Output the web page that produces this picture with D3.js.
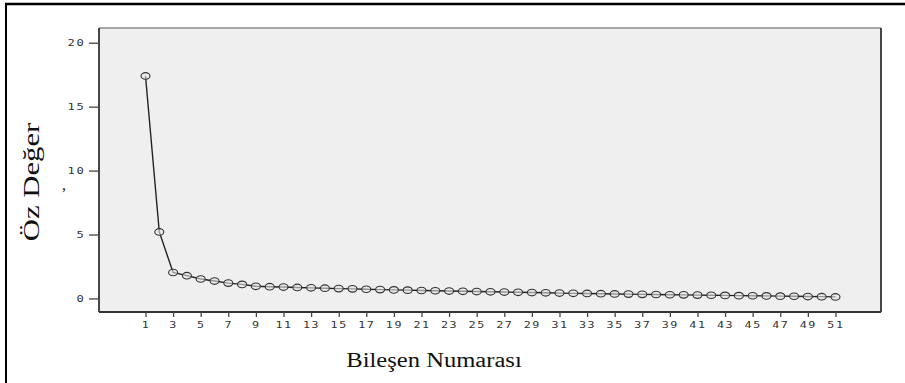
<!DOCTYPE html>
<html>
<head>
<meta charset="utf-8">
<script src="https://cdn.jsdelivr.net/npm/d3@7/dist/d3.min.js"></script>
<style>
  html, body { margin: 0; padding: 0; background: #fff; }
  svg { display: block; }
</style>
</head>
<body>
<svg id="chart" width="905" height="383"></svg>
<script>
const components = d3.range(1, 52);
const eigenvalues = [
  17.4, 5.2, 2.03, 1.78, 1.52, 1.36, 1.2, 1.1, 0.95, 0.92,
  0.89, 0.86, 0.83, 0.80, 0.77, 0.75, 0.72, 0.69, 0.67, 0.65,
  0.62, 0.60, 0.58, 0.56, 0.54, 0.52, 0.50, 0.48, 0.46, 0.44,
  0.42, 0.40, 0.39, 0.37, 0.35, 0.34, 0.32, 0.31, 0.29, 0.28,
  0.26, 0.25, 0.24, 0.22, 0.21, 0.20, 0.18, 0.17, 0.15, 0.14, 0.12
];
const xTickValues = d3.range(1, 52, 2);
const yTickValues = [0, 5, 10, 15, 20];
const xTitle = "Bileşen Numarası";
const yTitle = "Öz Değer";

const svg = d3.select("#chart");

// outer frame (top and left only)
svg.append("line").attr("x1", 5).attr("x2", 905).attr("y1", 4).attr("y2", 4)
  .attr("stroke", "#000").attr("stroke-width", 2.5);
svg.append("line").attr("x1", 6).attr("x2", 6).attr("y1", 3).attr("y2", 383)
  .attr("stroke", "#000").attr("stroke-width", 2);

const L = 99, T = 28, R = 881, B = 312;

const x = d3.scaleLinear().domain([-2.37, 54.3]).range([L, R]);
const y = d3.scaleLinear().domain([-1.06, 21.15]).range([B, T]);

// plot background
svg.append("rect").attr("x", L).attr("y", T).attr("width", R - L).attr("height", B - T)
  .attr("fill", "#efefef");
svg.append("line").attr("x1", L).attr("x2", R).attr("y1", T).attr("y2", T)
  .attr("stroke", "#8a8a8a").attr("stroke-width", 1.5);
svg.append("line").attr("x1", R).attr("x2", R).attr("y1", T).attr("y2", B)
  .attr("stroke", "#333").attr("stroke-width", 1.8);

// axes
const xAxis = d3.axisBottom(x).tickValues(xTickValues).tickSize(5).tickSizeOuter(0).tickPadding(5);
const yAxis = d3.axisLeft(y).tickValues(yTickValues).tickSize(10).tickSizeOuter(0).tickPadding(3);

const gx = svg.append("g").attr("transform", `translate(0,${B})`).call(xAxis);
const gy = svg.append("g").attr("transform", `translate(${L},0)`).call(yAxis);
gx.select(".domain").attr("d", `M${L},0H${R}`);
gy.select(".domain").attr("d", `M0,${T}V${B}`);
[gx, gy].forEach(g => {
  g.select(".domain").attr("stroke", "#333").attr("stroke-width", 1.8);
  g.selectAll(".tick line").attr("stroke", "#444").attr("stroke-width", 1.3);
  g.selectAll(".tick text")
    .attr("font-family", "DejaVu Sans Mono, monospace")
    .attr("font-size", 9)
    .attr("letter-spacing", 1.2)
    .attr("fill", "#333");
});
// widen tick glyphs like the reference
gx.selectAll(".tick text").attr("transform", "scale(1.3,1)");
gy.selectAll(".tick text").attr("x", -10).attr("transform", "scale(1.35,1)");

// line
const line = d3.line().x((d, i) => x(components[i])).y(d => y(d));
svg.append("path").datum(eigenvalues)
  .attr("d", line)
  .attr("fill", "none")
  .attr("stroke", "#222")
  .attr("stroke-width", 1.4);

// markers
svg.append("g").selectAll("ellipse").data(eigenvalues).join("ellipse")
  .attr("cx", (d, i) => x(components[i]))
  .attr("cy", d => y(d))
  .attr("rx", 4.5)
  .attr("ry", 3.3)
  .attr("fill", "#e4e4e4")
  .attr("fill-opacity", 0.6)
  .attr("stroke", "#333")
  .attr("stroke-width", 1.1);

// titles
svg.append("text")
  .attr("transform", "translate(434,367) scale(1.23,1)")
  .attr("text-anchor", "middle")
  .attr("font-family", "Liberation Serif, Times New Roman, serif")
  .attr("font-size", 20)
  .attr("fill", "#111")
  .text(xTitle);

svg.append("text")
  .attr("transform", "translate(39,182) rotate(-90) scale(1.28,1)")
  .attr("text-anchor", "middle")
  .attr("font-family", "Liberation Serif, Times New Roman, serif")
  .attr("font-size", 24)
  .attr("fill", "#111")
  .text(yTitle);

// small stray mark near the y title
svg.append("text")
  .attr("x", 62)
  .attr("y", 190)
  .attr("font-family", "Liberation Serif, serif")
  .attr("font-size", 16)
  .attr("fill", "#222")
  .text(",");
</script>
</body>
</html>
